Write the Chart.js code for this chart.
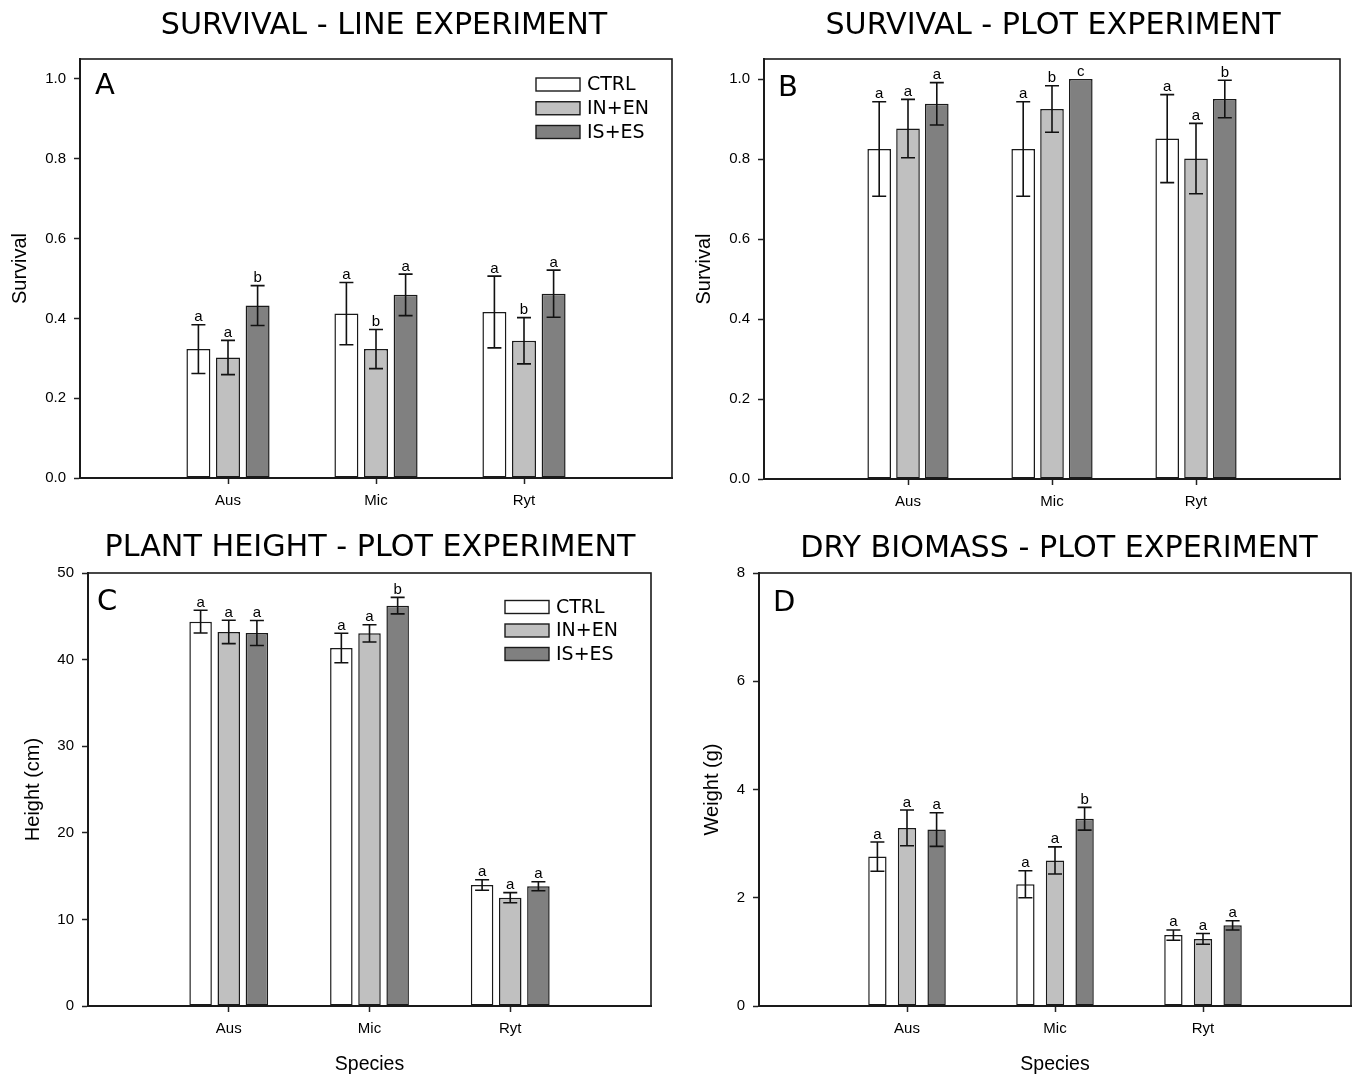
<!DOCTYPE html>
<html>
<head>
<meta charset="utf-8">
<script src="https://cdn.jsdelivr.net/npm/chart.js@4.4.1/dist/chart.umd.min.js"></script>
<style>
html, body { margin: 0; padding: 0; background: #ffffff; overflow: hidden; width: 1359px; height: 1076px; }
canvas { position: absolute; }
</style>
</head>
<body>
<canvas id="cA"></canvas>
<canvas id="cB"></canvas>
<canvas id="cC"></canvas>
<canvas id="cD"></canvas>
<script>
// ---------------- DATA ----------------
const species = ['Aus', 'Mic', 'Ryt'];
const treatments = ['CTRL', 'IN+EN', 'IS+ES'];

// Panel A – Survival, line experiment (rows: CTRL, IN+EN, IS+ES; columns: species)
const survLineMeans = [
  [0.323, 0.412, 0.416],
  [0.302, 0.323, 0.344],
  [0.432, 0.459, 0.462]
];
const survLineErrors = [
  [0.061, 0.078, 0.090],
  [0.043, 0.049, 0.058],
  [0.050, 0.052, 0.059]
];
const survLineLetters = [
  ['a', 'a', 'a'],
  ['a', 'b', 'b'],
  ['b', 'a', 'a']
];

// Panel B – Survival, plot experiment
const survPlotMeans = [
  [0.825, 0.825, 0.851],
  [0.876, 0.925, 0.801],
  [0.938, 1.000, 0.950]
];
const survPlotErrors = [
  [0.118, 0.118, 0.110],
  [0.073, 0.058, 0.088],
  [0.053, 0.000, 0.047]
];
const survPlotLetters = [
  ['a', 'a', 'a'],
  ['a', 'b', 'a'],
  ['a', 'c', 'b']
];

// Panel C – Plant height (cm), plot experiment
const heightMeans = [
  [44.38, 41.34, 13.97],
  [43.19, 43.03, 12.51],
  [43.07, 46.23, 13.82]
];
const heightErrors = [
  [1.31, 1.70, 0.60],
  [1.35, 1.00, 0.58],
  [1.45, 0.95, 0.52]
];
const heightLetters = [
  ['a', 'a', 'a'],
  ['a', 'a', 'a'],
  ['a', 'b', 'a']
];

// Panel D – Dry biomass (g), plot experiment
const biomassMeans = [
  [2.76, 2.25, 1.31],
  [3.29, 2.69, 1.24],
  [3.26, 3.46, 1.49]
];
const biomassErrors = [
  [0.27, 0.25, 0.095],
  [0.33, 0.25, 0.100],
  [0.31, 0.21, 0.085]
];
const biomassLetters = [
  ['a', 'a', 'a'],
  ['a', 'a', 'a'],
  ['a', 'b', 'a']
];

// Tick labels
const survivalTicks = [0, 0.2, 0.4, 0.6, 0.8, 1.0];
const heightTicks = [0, 10, 20, 30, 40, 50];
const weightTicks = [0, 2, 4, 6, 8];

// ---------------- STYLE / LAYOUT ----------------
const fillColors = ['#ffffff', '#c0c0c0', '#808080'];
const SANS = "'Liberation Sans', Arial, sans-serif";
const VERD = "'DejaVu Sans', Verdana, sans-serif";
Chart.defaults.font.family = SANS;
Chart.defaults.color = '#000';

const panels = [
  {
    id: 'cA', canvas: { x: 0, y: 0, w: 680, h: 525 }, area: { l: 80, t: 59, r: 672, b: 478 },
    title: 'SURVIVAL - LINE EXPERIMENT', titlePos: { x: 384, y: 34 },
    letter: 'A', letterPos: { x: 95, y: 94 },
    means: survLineMeans, errors: survLineErrors, letters: survLineLetters,
    yMax: 1.05, ticks: survivalTicks, decimals: 1,
    yTitle: 'Survival', yTitlePad: 8, xTitle: null, barPct: 0.81,
    legend: { x: 536, y: 84.5, dy: 23.75 }
  },
  {
    id: 'cB', canvas: { x: 680, y: 0, w: 679, h: 525 }, area: { l: 764, t: 59, r: 1340, b: 479 },
    title: 'SURVIVAL - PLOT EXPERIMENT', titlePos: { x: 1053, y: 34 },
    letter: 'B', letterPos: { x: 778, y: 96 },
    means: survPlotMeans, errors: survPlotErrors, letters: survPlotLetters,
    yMax: 1.05, ticks: survivalTicks, decimals: 1,
    yTitle: 'Survival', yTitlePad: 12, xTitle: null, barPct: 0.82,
    legend: null
  },
  {
    id: 'cC', canvas: { x: 0, y: 525, w: 680, h: 551 }, area: { l: 88, t: 573, r: 651, b: 1006 },
    title: 'PLANT HEIGHT - PLOT EXPERIMENT', titlePos: { x: 370, y: 556 },
    letter: 'C', letterPos: { x: 97, y: 610 },
    means: heightMeans, errors: heightErrors, letters: heightLetters,
    yMax: 50, ticks: heightTicks, decimals: 0,
    yTitle: 'Height (cm)', yTitlePad: 21, xTitle: 'Species', barPct: 0.80,
    legend: { x: 505, y: 607, dy: 23.5 }
  },
  {
    id: 'cD', canvas: { x: 680, y: 525, w: 679, h: 551 }, area: { l: 759, t: 573, r: 1357, b: 1006 },
    title: 'DRY BIOMASS - PLOT EXPERIMENT', titlePos: { x: 1059, y: 557 },
    letter: 'D', letterPos: { x: 773, y: 611 },
    means: biomassMeans, errors: biomassErrors, letters: biomassLetters,
    yMax: 8, ticks: weightTicks, decimals: 0,
    yTitle: 'Weight (g)', yTitlePad: 20, xTitle: 'Species', barPct: 0.62,
    legend: null
  }
];

function decorPlugin(p) {
  const ox = p.canvas.x, oy = p.canvas.y;
  return {
    id: 'decor_' + p.id,
    afterDatasetsDraw(chart) {
      const ctx = chart.ctx;
      const yScale = chart.scales.y;
      ctx.save();
      chart.data.datasets.forEach((ds, di) => {
        const meta = chart.getDatasetMeta(di);
        meta.data.forEach((bar, j) => {
          const v = ds.data[j];
          if (v === null || v === undefined) return;
          const si = j - 1;
          const e = p.errors[di][si];
          const x = bar.x;
          const yT = yScale.getPixelForValue(v + e);
          const yB = yScale.getPixelForValue(v - e);
          if (e > 0) {
            ctx.strokeStyle = '#111';
            ctx.lineWidth = 1.6;
            ctx.beginPath();
            ctx.moveTo(x, yT); ctx.lineTo(x, yB);
            ctx.moveTo(x - 7, yT); ctx.lineTo(x + 7, yT);
            ctx.moveTo(x - 7, yB); ctx.lineTo(x + 7, yB);
            ctx.stroke();
          }
          ctx.fillStyle = '#000';
          ctx.font = '15px ' + SANS;
          ctx.textAlign = 'center';
          ctx.textBaseline = 'alphabetic';
          ctx.fillText(p.letters[di][si], x, yT - 3.5);
        });
      });
      ctx.restore();
    },
    afterDraw(chart) {
      const ctx = chart.ctx;
      const a = chart.chartArea;
      ctx.save();
      // plot frame
      ctx.strokeStyle = '#1a1a1a';
      ctx.lineWidth = 1.6;
      ctx.strokeRect(a.left, a.top, a.right - a.left, a.bottom - a.top);
      // title
      ctx.fillStyle = '#000';
      ctx.font = '30.2px ' + VERD;
      ctx.textAlign = 'center';
      ctx.textBaseline = 'alphabetic';
      ctx.fillText(p.title, p.titlePos.x - ox, p.titlePos.y - oy);
      // panel letter
      ctx.font = '29px ' + VERD;
      ctx.textAlign = 'left';
      ctx.fillText(p.letter, p.letterPos.x - ox, p.letterPos.y - oy);
      // legend
      if (p.legend) {
        ctx.font = '19px ' + VERD;
        ctx.textBaseline = 'middle';
        treatments.forEach((t, i) => {
          const bx = p.legend.x - ox;
          const by = p.legend.y - oy + i * p.legend.dy;
          ctx.fillStyle = fillColors[i];
          ctx.fillRect(bx, by - 6.5, 44, 13);
          ctx.strokeStyle = '#1a1a1a';
          ctx.lineWidth = 1.4;
          ctx.strokeRect(bx, by - 6.5, 44, 13);
          ctx.fillStyle = '#000';
          ctx.fillText(t, bx + 51, by + 1);
        });
      }
      ctx.restore();
    }
  };
}

panels.forEach(p => {
  const cv = document.getElementById(p.id);
  cv.width = p.canvas.w;
  cv.height = p.canvas.h;
  cv.style.left = p.canvas.x + 'px';
  cv.style.top = p.canvas.y + 'px';
  cv.style.width = p.canvas.w + 'px';
  cv.style.height = p.canvas.h + 'px';

  const labels = [''].concat(species, ['']);
  const datasets = treatments.map((t, i) => ({
    label: t,
    data: [null].concat(p.means[i], [null]),
    backgroundColor: fillColors[i],
    borderColor: '#1a1a1a',
    borderWidth: 1.5,
    borderSkipped: false,
    categoryPercentage: 0.6,
    barPercentage: p.barPct
  }));

  new Chart(cv, {
    type: 'bar',
    data: { labels, datasets },
    options: {
      responsive: false,
      animation: false,
      devicePixelRatio: 1,
      events: [],
      layout: {
        padding: {
          left: 0,
          top: p.area.t - p.canvas.y,
          right: p.canvas.x + p.canvas.w - p.area.r,
          bottom: 0
        }
      },
      plugins: {
        legend: { display: false },
        title: { display: false },
        tooltip: { enabled: false }
      },
      scales: {
        x: {
          type: 'category',
          offset: false,
          grid: {
            offset: false,
            drawOnChartArea: false,
            drawTicks: true,
            tickLength: 6,
            tickWidth: 1.5,
            tickColor: (c) => (c.index === 0 || c.index === labels.length - 1) ? 'rgba(0,0,0,0)' : '#222'
          },
          border: { display: true, color: '#222', width: 2 },
          ticks: { color: '#000', font: { size: 15, family: SANS }, padding: 8, maxRotation: 0, autoSkip: false },
          title: p.xTitle ? {
            display: true, text: p.xTitle, color: '#000',
            font: { size: 19.5, family: SANS }, padding: { top: 0, bottom: 0 }
          } : { display: false },
          afterFit: (s) => { s.height = p.canvas.y + p.canvas.h - p.area.b; }
        },
        y: {
          type: 'linear',
          min: 0,
          max: p.yMax,
          grid: {
            drawOnChartArea: false,
            drawTicks: true,
            tickLength: 6,
            tickWidth: 1.5,
            tickColor: '#222'
          },
          border: { display: true, color: '#222', width: 2 },
          ticks: {
            color: '#000',
            font: { size: 15, family: SANS },
            padding: 8,
            callback: (v) => Number(v).toFixed(p.decimals)
          },
          afterBuildTicks: (s) => { s.ticks = p.ticks.map(v => ({ value: v })); },
          title: {
            display: true, text: p.yTitle, color: '#000',
            font: { size: 20, family: SANS }, padding: { top: p.yTitlePad, bottom: 0 }
          },
          afterFit: (s) => { s.width = p.area.l - p.canvas.x; }
        }
      }
    },
    plugins: [decorPlugin(p)]
  });
});
</script>
</body>
</html>
